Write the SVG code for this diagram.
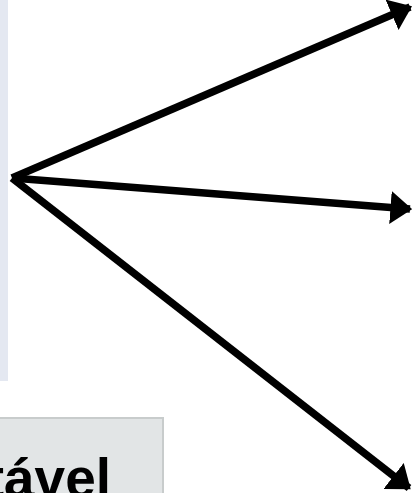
<svg xmlns="http://www.w3.org/2000/svg" width="412" height="493" viewBox="0 0 412 493">
  <style>
    .conn { stroke: #000; stroke-width: 7.5; fill: none; marker-end: url(#ah); }
    .lbl { font-family: "Liberation Sans", Arial, sans-serif; font-weight: bold; font-size: 55px; fill: #000; }
  </style>
  <defs>
    <marker id="ah" viewBox="0 0 10 10" preserveAspectRatio="none" refX="9" refY="5" markerWidth="2.9" markerHeight="4.4" orient="auto" markerUnits="strokeWidth">
      <path d="M0,0 L10,5 L0,10 Z" fill="#000"/>
    </marker>
  </defs>
  <rect width="412" height="493" fill="#fff"/>
  <g id="left-panel">
    <rect x="0" y="0" width="8" height="381" fill="#e4e8f1"/>
  </g>
  <g id="bottom-box">
    <rect x="-2" y="418" width="165" height="80" fill="#e2e5e6" stroke="#c8cccc" stroke-width="2"/>
    <text class="lbl" x="111" y="497" text-anchor="end">Portável</text>
  </g>
  <g id="connectors">
    <path class="conn" d="M12,178 L410,7"/>
    <path class="conn" d="M12,178 L410,209"/>
    <path class="conn" d="M12,178 L409,488"/>
  </g>
</svg>
